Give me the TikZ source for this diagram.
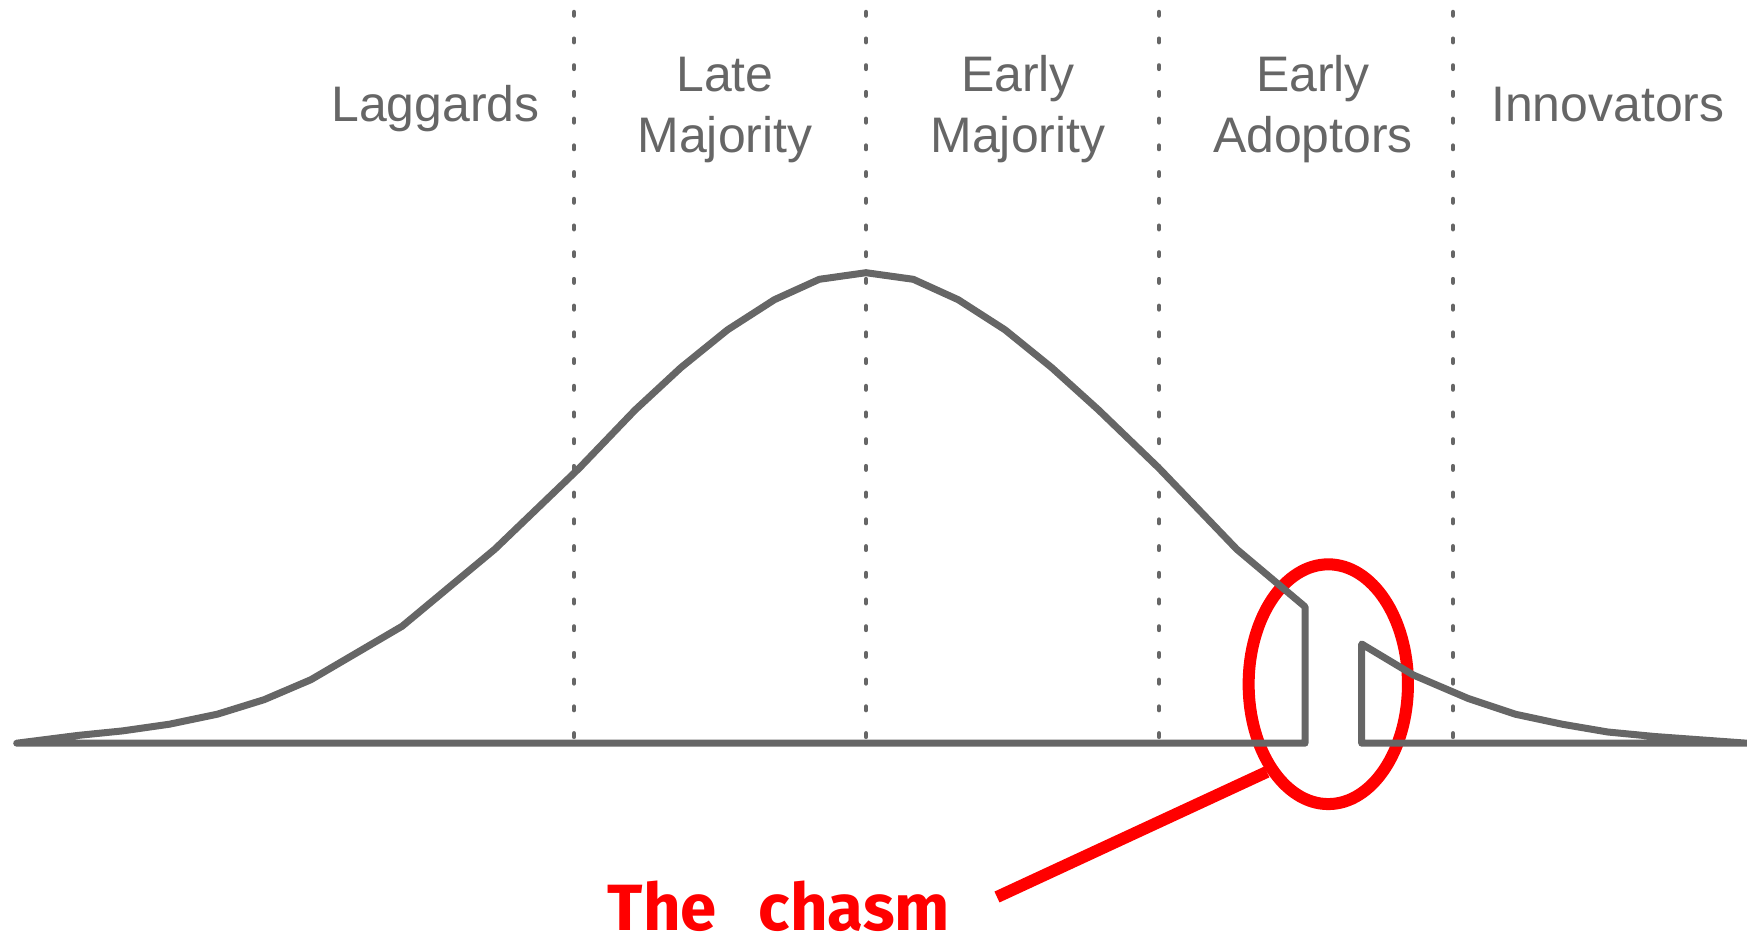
\documentclass[tikz,border=0pt]{standalone}
\usepackage{fontspec}
\setmainfont{Liberation Sans}
\newfontfamily\handfont{Fira Sans}
\usetikzlibrary{shapes.geometric}

\definecolor{curvegray}{HTML}{666666}
\definecolor{chasmred}{HTML}{FF0000}

\begin{document}
\begin{tikzpicture}[x=0.01cm, y=-0.01cm,
    % Define the styles
    curve/.style={draw=curvegray, line width=0.07cm, line cap=round, line join=round},
    divider/.style={draw=curvegray, line width=0.045cm, line cap=round,
        dash pattern=on 0.035cm off 0.232cm},
    group/.style={text=curvegray, font=\fontsize{14.2pt}{17.1pt}\selectfont,
        align=center, anchor=base, inner sep=0pt},
    marker/.style={draw=chasmred, line width=0.12cm}
]

\useasboundingbox (0,0) rectangle (1747,942);

% Define the points of the two pieces
\coordinate (A) at (16.7,743.2);
\coordinate (B) at (1305,606.7);
\coordinate (C) at (1305,743.2);
\coordinate (D) at (1361.7,743.2);
\coordinate (E) at (1361.7,644);
\coordinate (F) at (1747,743.2);
\coordinate (tip) at (997,897);

% Draw the chasm marker
\node[ellipse, marker, minimum width=1.592cm, minimum height=2.396cm, inner sep=0pt] (chasm) at (1328.3,684.2) {};
\draw[marker] (chasm.235) -- (tip);
\node[text=chasmred, font=\handfont\bfseries\fontsize{18.6pt}{20pt}\selectfont,
    anchor=base west, inner sep=0pt] (chasmtext) at (607,930) {The\hspace{0.42cm}chasm};

% Draw the dividers
\foreach \x in {574,866,1159,1453}
    \draw[divider] (\x,12) -- (\x,743.2);

% Draw the curve
\draw[curve] (A) -- (78,735.4) -- (122.6,730.9) -- (169.4,724.2) -- (217.3,714.2)
    -- (264.1,699.7) -- (310.9,679.7) -- (402.2,626.2) -- (494.7,549.3) -- (579.4,468)
    -- (635.1,410) -- (680.8,367.7) -- (727.6,329.8) -- (774.4,299.7) -- (819.3,279.3)
    -- (866,272.7) -- (913.3,279.3) -- (958.2,299.7) -- (1005,329.8) -- (1051.8,367.7)
    -- (1098.6,410) -- (1158.8,468) -- (1236.8,549.3) -- (B) -- (C) -- cycle;
\draw[curve] (D) -- (E) -- (1413.3,675) -- (1468.5,698.6) -- (1515.3,714.2)
    -- (1562.1,724.2) -- (1607.8,732) -- (1654.6,736.5) -- (F) -- cycle;

% Add the group labels
\node[group] (laggards) at (435.4,121.7) {Laggards};
\node[group] (late) at (725,152) {Late\\Majority};
\node[group] (earlymaj) at (1018,152) {Early\\Majority};
\node[group] (adopters) at (1313,152) {Early\\Adoptors};
\node[group] (innovators) at (1607.8,121.7) {Innovators};

\end{tikzpicture}
\end{document}
